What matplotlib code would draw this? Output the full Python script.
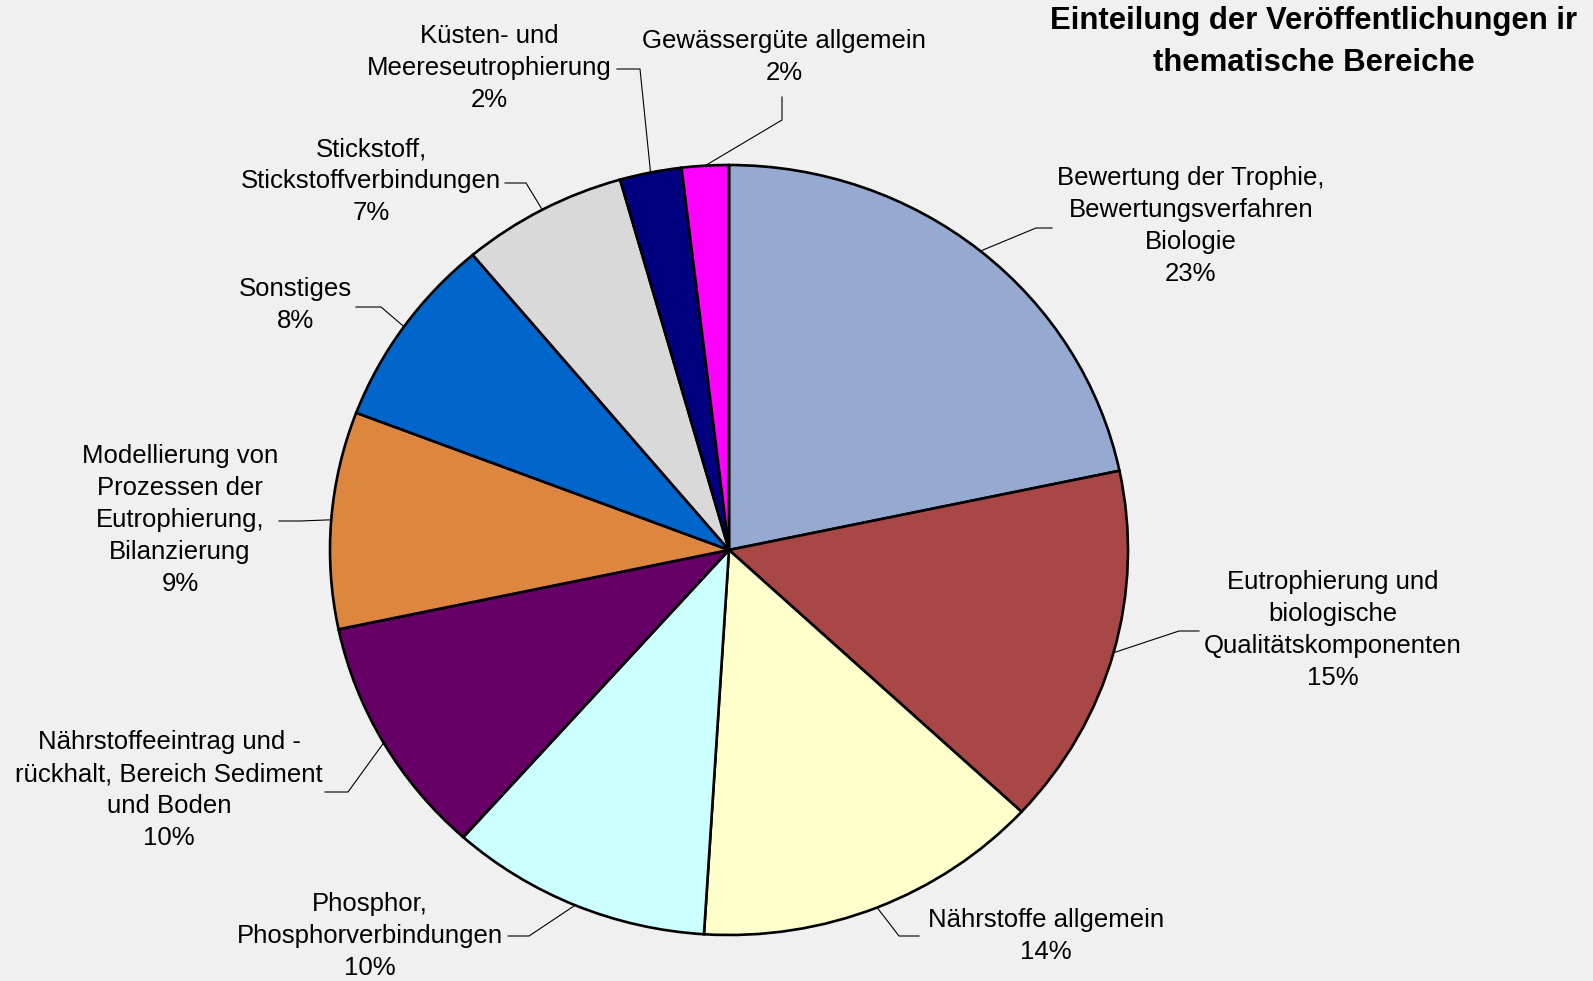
import numpy as np
import matplotlib.pyplot as plt
from matplotlib.lines import Line2D

plt.rcParams['font.family'] = ['Liberation Sans', 'DejaVu Sans']

# slice names, clockwise from 12 o'clock
categories = [
    "Bewertung der Trophie,\nBewertungsverfahren\nBiologie",
    "Eutrophierung und\nbiologische\nQualitätskomponenten",
    "Nährstoffe allgemein",
    "Phosphor,\nPhosphorverbindungen",
    "Nährstoffeeintrag und -\nrückhalt, Bereich Sediment\nund Boden",
    "Modellierung von\nProzessen der\nEutrophierung,\nBilanzierung",
    "Sonstiges",
    "Stickstoff,\nStickstoffverbindungen",
    "Küsten- und\nMeereseutrophierung",
    "Gewässergüte allgemein",
]
# wedge sizes as drawn
shares = [21.7, 15.2, 14.1, 10.6, 10.1, 9.1, 8.1, 6.7, 2.5, 1.9]
# percentages as printed in the labels
pct_labels = [23, 15, 14, 10, 10, 9, 8, 7, 2, 2]
colors = ['#96A9D0', '#A94746', '#FFFFCC', '#CCFFFF', '#660066',
          '#DD8640', '#0066CC', '#D9D9D9', '#000080', '#FF00FF']

title = "Einteilung der Veröffentlichungen ir\nthematische Bereiche"

# label layout in pixel coords (x right, y down)
label_xy = [(1191, 226), (1333, 630), (1046, 936), (370, 936), (169, 790),
            (180, 520), (295, 305), (371, 181), (489, 68), (784, 57)]
elbow_xy = [(1036, 228), (1179, 631), (899, 936), (529, 936), (348, 792),
            (300, 521), (381, 307), (526, 183), (640, 69), (782, 120)]
end_xy = [(1052, 228), (1199, 631), (919, 936), (508, 936), (325, 792),
          (279, 521), (356, 307), (505, 183), (617, 69), (782, 97)]

W, H = 1593, 981
fig = plt.figure(figsize=(W / 100, H / 100), dpi=100, facecolor='#F0F0F0')

# pie is slightly wider than tall in the original
cx, cy, rx, ry = 729, 550, 399, 385
ax = fig.add_axes([(cx - rx) / W, (H - cy - ry) / H, 2 * rx / W, 2 * ry / H])
wedges, _ = ax.pie(shares, colors=colors, startangle=90, counterclock=False,
                   wedgeprops=dict(edgecolor='black', linewidth=1.9))
for w in wedges:
    w.set_clip_on(False)
ax.set_aspect('auto')
ax.set_xlim(-1, 1)
ax.set_ylim(-1, 1)
ax.axis('off')

# overlay in pixel coords for labels and leader lines
over = fig.add_axes([0, 0, 1, 1])
over.set_xlim(0, W)
over.set_ylim(H, 0)
over.axis('off')
over.patch.set_alpha(0)

to_over = over.transData.inverted()
for i, w in enumerate(wedges):
    mid = np.deg2rad((w.theta1 + w.theta2) / 2)
    start = to_over.transform(ax.transData.transform((np.cos(mid), np.sin(mid))))
    xs = [start[0], elbow_xy[i][0], end_xy[i][0]]
    ys = [start[1], elbow_xy[i][1], end_xy[i][1]]
    over.add_line(Line2D(xs, ys, color='black', lw=0.8))
    over.text(label_xy[i][0], label_xy[i][1],
              f"{categories[i]}\n{pct_labels[i]}%",
              ha='center', va='center', fontsize=18.5, linespacing=1.42)

over.text(1314, 42, title, ha='center', va='center', fontsize=22.4,
          fontweight='bold', linespacing=1.55)

fig.savefig('out.png', dpi=100, facecolor=fig.get_facecolor())
